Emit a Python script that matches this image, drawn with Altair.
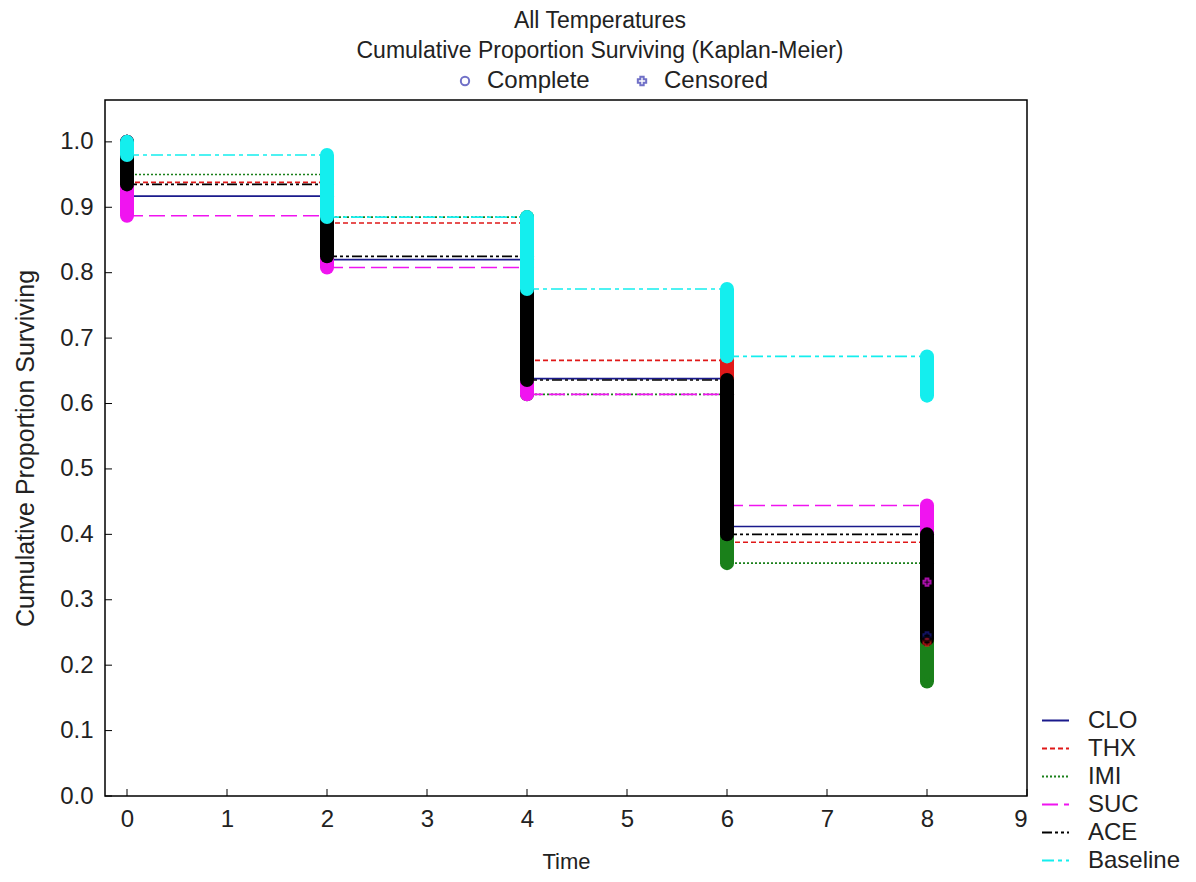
import altair as alt
import pandas as pd

# ---- data ----
groups = ["CLO", "THX", "IMI", "SUC", "ACE", "Baseline"]
times = [0, 2, 4, 6, 8]
surv_CLO = [0.917, 0.820, 0.638, 0.412, 0.245]
surv_THX = [0.938, 0.876, 0.666, 0.388, 0.235]
surv_IMI = [0.950, 0.885, 0.614, 0.356, 0.175]
surv_SUC = [0.887, 0.808, 0.614, 0.444, 0.327]
surv_ACE = [0.935, 0.825, 0.636, 0.400, 0.240]
surv_Baseline = [0.980, 0.885, 0.775, 0.672, 0.612]
surv = {"CLO": surv_CLO, "THX": surv_THX, "IMI": surv_IMI,
        "SUC": surv_SUC, "ACE": surv_ACE, "Baseline": surv_Baseline}
x_ticks = [0, 1, 2, 3, 4, 5, 6, 7, 8, 9]
y_ticks = [0.0, 0.1, 0.2, 0.3, 0.4, 0.5, 0.6, 0.7, 0.8, 0.9, 1.0]
marker_kinds = ["Complete", "Censored"]

colors = ["#1a1a8c", "#e01818", "#1a801a", "#f014f0", "#000000", "#14eeee"]
dashes = [[1, 0], [5, 3], [2, 2], [16, 6], [10, 3, 3, 3, 3, 3], [12, 4, 4, 4]]

# ---- tables ----
step_rows, bar_rows, cens_rows = [], [], []
for gi, g in enumerate(groups):
    s = surv[g]
    for i in range(len(times) - 1):
        step_rows.append({"group": g, "t": times[i], "t2": times[i + 1], "s": s[i], "k": gi})
    for i in range(len(times)):
        top = 1.0 if i == 0 else s[i - 1]
        bar_rows.append({"group": g, "t": times[i], "top": top, "bot": s[i], "k": gi})
    cens_rows.append({"group": g, "t": times[-1], "s": s[-1], "kind": "Censored", "k": gi})
steps = pd.DataFrame(step_rows)
bars = pd.DataFrame(bar_rows)
cens = pd.DataFrame(cens_rows)
xt = pd.DataFrame({"v": x_ticks})
yt = pd.DataFrame({"v": y_ticks})

W, H = 922, 696
FS = 24
xs = alt.Scale(domain=[-0.22, 9], nice=False)
ys = alt.Scale(domain=[0, 1.064], nice=False)
cscale = alt.Scale(domain=groups, range=colors)
dscale = alt.Scale(domain=groups, range=dashes)

x_axis = alt.Axis(values=x_ticks, format="d", ticks=False, domain=False, grid=False,
                  labelFontSize=FS, labelPadding=11, title="Time", titleFontSize=22,
                  titleFontWeight="normal", titlePadding=20, labelColor="#222", titleColor="#222")
y_axis = alt.Axis(values=y_ticks, format=".1f", ticks=False, domain=False, grid=False,
                  labelFontSize=FS, labelPadding=12, title="Cumulative Proportion Surviving",
                  titleFontSize=25, titleFontWeight="normal", titlePadding=21,
                  labelColor="#222", titleColor="#222")

grp_legend = alt.Legend(title=None, orient="none", legendX=936, legendY=606, symbolType="stroke",
                        symbolSize=729, symbolStrokeWidth=2, labelFontSize=FS, rowPadding=1,
                        labelOffset=18, labelColor="#222")

lines = alt.Chart(steps).mark_rule(strokeWidth=1.6).encode(
    x=alt.X("t:Q", scale=xs, axis=x_axis),
    x2="t2:Q",
    y=alt.Y("s:Q", scale=ys, axis=y_axis),
    color=alt.Color("group:N", scale=cscale, legend=grp_legend),
    strokeDash=alt.StrokeDash("group:N", scale=dscale, legend=grp_legend),
    order=alt.Order("k:Q"),
)

event_bars = alt.Chart(bars).mark_rule(strokeWidth=14, strokeCap="round").encode(
    x=alt.X("t:Q", scale=xs),
    y=alt.Y("top:Q", scale=ys),
    y2="bot:Q",
    color=alt.Color("group:N", scale=cscale, legend=None),
    order=alt.Order("k:Q"),
)

censored = alt.Chart(cens).mark_point(filled=False, strokeWidth=2, size=50).encode(
    x=alt.X("t:Q", scale=xs),
    y=alt.Y("s:Q", scale=ys),
    color=alt.Color("group:N", scale=cscale, legend=None),
    shape=alt.Shape("kind:N", scale=alt.Scale(domain=marker_kinds, range=["circle", "cross"]),
                    legend=alt.Legend(title=None, orient="none", direction="horizontal",
                                      legendX=348, legendY=-31, labelFontSize=FS,
                                      symbolSize=70, symbolStrokeColor="#3434b0",
                                      symbolStrokeWidth=2, columnPadding=40,
                                      labelOffset=10, labelColor="#222")),
)

xticks = alt.Chart(xt).mark_rule(color="black", strokeWidth=1).encode(
    x=alt.X("v:Q", scale=xs), y=alt.value(H), y2=alt.value(H - 7))
yticks = alt.Chart(yt).mark_rule(color="black", strokeWidth=1).encode(
    y=alt.Y("v:Q", scale=ys), x=alt.value(0), x2=alt.value(7))

chart = alt.layer(lines, event_bars, censored, xticks, yticks).properties(
    width=W, height=H,
    title=alt.TitleParams(["All Temperatures", "Cumulative Proportion Surviving (Kaplan-Meier)"],
                          fontSize=23, fontWeight="normal", lineHeight=30, offset=6,
                          dx=34, anchor="middle", color="#222"),
    autosize=alt.AutoSizeParams(type="none"),
    padding={"left": 97, "top": 92, "right": 161, "bottom": 78},
).configure(font="Liberation Sans").configure_view(stroke="black", strokeWidth=1.5)

chart.save("out.html", embed_options={"renderer": "svg", "actions": False})
